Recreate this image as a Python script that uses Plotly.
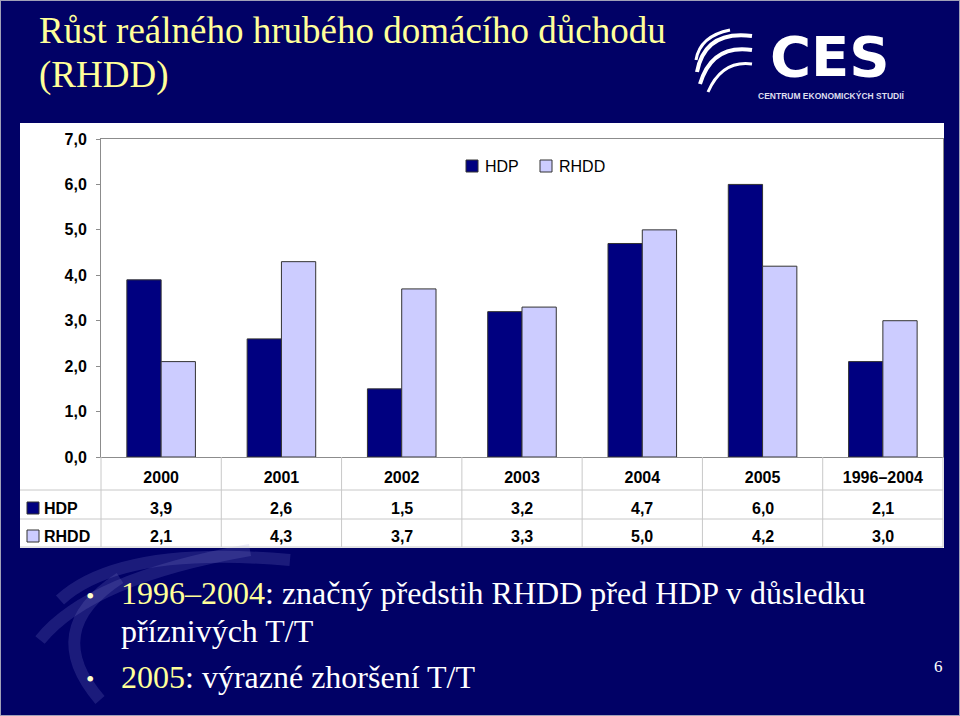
import plotly.graph_objects as go

# ---------------- data ----------------
categories = ["2000", "2001", "2002", "2003", "2004", "2005", "1996–2004"]
hdp = [3.9, 2.6, 1.5, 3.2, 4.7, 6.0, 2.1]
rhdd = [2.1, 4.3, 3.7, 3.3, 5.0, 4.2, 3.0]
series_names = ["HDP", "RHDD"]
y_ticks = [0, 1, 2, 3, 4, 5, 6, 7]

title_lines = ["Růst reálného hrubého domácího důchodu", "(RHDD)"]

W, H = 960, 716
NAVY = "#010166"
HDP_C = "#000080"
RHDD_C = "#CCCCFF"
YEL = "#FFFF99"
GRID = "#C8C8C8"
AX = "#8C8C8C"


def px(x):
    return x / W


def py(y):
    return 1 - y / H


def fmt(v):
    return f"{v:.1f}".replace(".", ",")


fig = go.Figure()
fig.add_trace(go.Bar(x=categories, y=hdp, name=series_names[0],
                     marker=dict(color=HDP_C, line=dict(color="#333333", width=1))))
fig.add_trace(go.Bar(x=categories, y=rhdd, name=series_names[1],
                     marker=dict(color=RHDD_C, line=dict(color="#333333", width=1))))

plot_top, plot_bot = 139, 457
plot_l, plot_r = 101, 943
SANS = "Liberation Sans, Arial"
SERIF = "Liberation Serif, Times New Roman"

shapes = []
annotations = []

# white chart panel
shapes.append(dict(type="rect", xref="paper", yref="paper", x0=px(20), x1=px(944),
                   y0=py(548), y1=py(123), fillcolor="white", line=dict(width=0), layer="below"))

# table horizontal lines
for yy in [490, 519, 547]:
    shapes.append(dict(type="line", xref="paper", yref="paper", x0=px(20), x1=px(943),
                       y0=py(yy), y1=py(yy), line=dict(color=GRID, width=1)))
# left column separator & right edge
for xx in [plot_l, plot_r]:
    shapes.append(dict(type="line", xref="paper", yref="paper", x0=px(xx), x1=px(xx),
                       y0=py(plot_bot), y1=py(547), line=dict(color=GRID, width=1)))
# category separators in the table
for k in range(1, len(categories)):
    shapes.append(dict(type="line", xref="x", yref="paper", x0=k - 0.5, x1=k - 0.5,
                       y0=py(plot_bot), y1=py(547), line=dict(color=GRID, width=1)))

# legend keys (top legend and table)
key_boxes = [(466, 160, HDP_C), (540, 160, RHDD_C), (27, 502, HDP_C), (27, 530, RHDD_C)]
for (x0, y0, col) in key_boxes:
    shapes.append(dict(type="rect", xref="paper", yref="paper", x0=px(x0), x1=px(x0 + 12),
                       y0=py(y0 + 12), y1=py(y0), fillcolor=col,
                       line=dict(color="#333333", width=1)))
# top legend texts
for name, xx in [(series_names[0], 483), (series_names[1], 557)]:
    annotations.append(dict(text=name, xref="paper", yref="paper", x=px(xx), y=py(166),
                            xanchor="left", yanchor="middle", showarrow=False,
                            font=dict(family=SANS, size=16, color="black")))

# table row labels
for name, yy in [(series_names[0], 508), (series_names[1], 536)]:
    annotations.append(dict(text=f"<b>{name}</b>", xref="paper", yref="paper", x=px(42), y=py(yy),
                            xanchor="left", yanchor="middle", showarrow=False,
                            font=dict(family=SANS, size=16, color="black")))
# table values
for vals, yy in [(hdp, 508), (rhdd, 536)]:
    for i, v in enumerate(vals):
        annotations.append(dict(text=f"<b>{fmt(v)}</b>", xref="x", yref="paper", x=i, y=py(yy),
                                xanchor="center", yanchor="middle", showarrow=False,
                                font=dict(family=SANS, size=16, color="black")))

# title
for line, yy in zip(title_lines, [30, 75]):
    annotations.append(dict(text=line, xref="paper", yref="paper", x=px(37), y=py(yy),
                            xanchor="left", yanchor="middle", showarrow=False,
                            font=dict(family=SERIF, size=37, color=YEL)))

# CES logo
annotations.append(dict(text="<b>CES</b>", xref="paper", yref="paper", x=px(830), y=py(56.5),
                        xanchor="center", yanchor="middle", showarrow=False, borderpad=0,
                        font=dict(family="DejaVu Sans, Liberation Sans", size=56, color="white")))
annotations.append(dict(text="<b>CENTRUM EKONOMICKÝCH STUDIÍ</b>", xref="paper", yref="paper",
                        x=px(831), y=py(96), xanchor="center", yanchor="middle", showarrow=False,
                        borderpad=0,
                        font=dict(family="Liberation Sans Narrow, Liberation Sans", size=8.5,
                                  color="#DDDDEE")))


def path(points):
    (x0, y0), (cx, cy), (x1, y1) = points
    return f"M {px(x0)},{py(y0)} Q {px(cx)},{py(cy)} {px(x1)},{py(y1)}"


for pts, wdt in [(((697, 72), (705, 30), (752, 36)), 4),
                 (((700, 84), (712, 44), (752, 50)), 4),
                 (((708, 92), (722, 60), (752, 64)), 3),
                 (((696, 60), (700, 36), (730, 30)), 3)]:
    shapes.append(dict(type="path", xref="paper", yref="paper", path=path(pts),
                       line=dict(color="white", width=wdt)))

# faint watermark swooshes lower left
for pts in [((60, 600), (120, 545), (290, 560)),
            ((40, 640), (90, 578), (250, 550)),
            ((100, 700), (40, 630), (120, 578))]:
    shapes.append(dict(type="path", xref="paper", yref="paper", path=path(pts),
                       line=dict(color="rgba(150,150,220,0.18)", width=12), layer="below"))

# bullets
bf = dict(family=SERIF, size=32, color="white")
for yy in [596, 679]:
    annotations.append(dict(text="•", xref="paper", yref="paper", x=px(90), y=py(yy),
                            xanchor="center", yanchor="middle", showarrow=False,
                            font=dict(family=SERIF, size=24, color="#FFFFCC")))
annotations.append(dict(text=f"<span style='color:{YEL}'>1996–2004</span>: značný předstih RHDD před HDP v důsledku",
                        xref="paper", yref="paper", x=px(119), y=py(593), xanchor="left",
                        yanchor="middle", showarrow=False, font=bf))
annotations.append(dict(text="příznivých T/T", xref="paper", yref="paper", x=px(119), y=py(631),
                        xanchor="left", yanchor="middle", showarrow=False, font=bf))
annotations.append(dict(text=f"<span style='color:{YEL}'>2005</span>: výrazné zhoršení T/T",
                        xref="paper", yref="paper", x=px(119), y=py(677), xanchor="left",
                        yanchor="middle", showarrow=False, font=bf))
annotations.append(dict(text="6", xref="paper", yref="paper", x=px(938), y=py(666),
                        xanchor="center", yanchor="middle", showarrow=False,
                        font=dict(family=SERIF, size=17, color="white")))

# slide border
shapes.append(dict(type="rect", xref="paper", yref="paper", x0=0, x1=1, y0=0, y1=1,
                   line=dict(color="#A0A0B8", width=2)))

fig.update_layout(
    width=W, height=H,
    margin=dict(l=0, r=0, t=0, b=0, autoexpand=False),
    paper_bgcolor=NAVY, plot_bgcolor="white",
    separators=", ",
    barmode="group", bargap=0.43, bargroupgap=0,
    showlegend=False,
    xaxis=dict(domain=[px(plot_l), px(plot_r)], type="category", range=[-0.5, 6.5],
               showline=True, linecolor=AX, linewidth=1, mirror=True,
               ticks="", ticklabelstandoff=6,
               tickfont=dict(family=SANS, size=16, color="black", weight="bold"),
               showgrid=False),
    yaxis=dict(domain=[py(plot_bot), py(plot_top)], range=[0, 7], tickvals=y_ticks,
               tickformat=".1f", showline=True, linecolor=AX, linewidth=1, mirror=True,
               ticks="outside", ticklen=4, tickcolor=AX, ticklabelstandoff=6,
               tickfont=dict(family=SANS, size=16, color="black", weight="bold"),
               showgrid=False, zeroline=False),
    shapes=shapes, annotations=annotations,
)

fig.write_html("out.html", config={"displayModeBar": False},
               post_script="document.body.style.margin='0px';")
